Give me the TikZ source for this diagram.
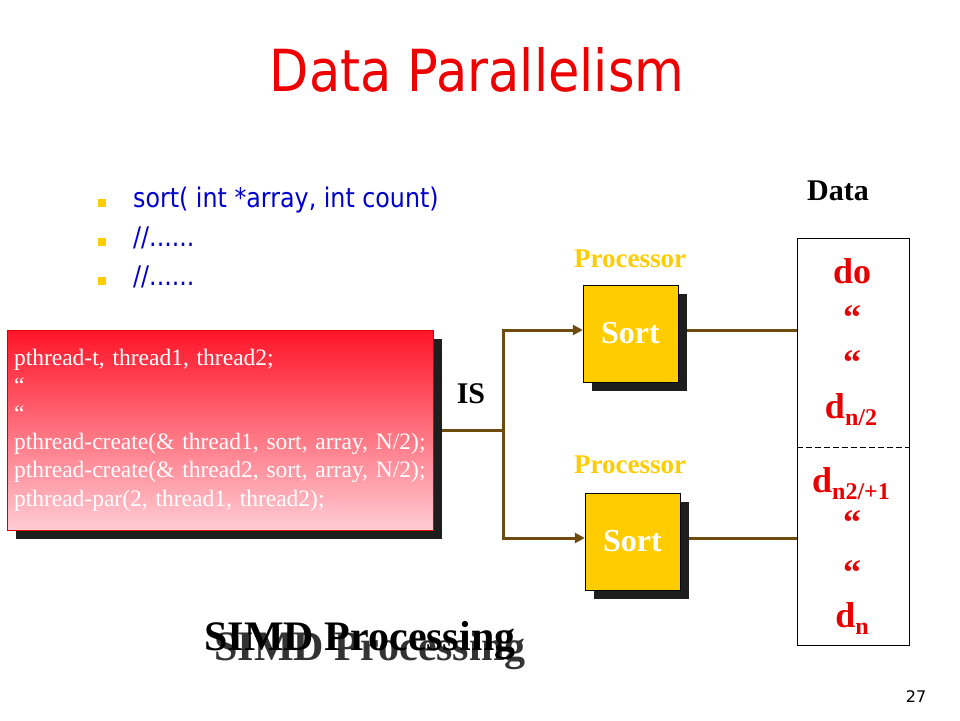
\documentclass[tikz,border=0pt]{standalone}
\usepackage{fontspec}
\usepackage{graphicx}
\setmainfont{Liberation Serif}
\newfontfamily\slidesans{DejaVu Sans}
\usetikzlibrary{arrows.meta,shadows}

\definecolor{titlered}{RGB}{238,0,0}
\definecolor{itemblue}{RGB}{0,0,204}
\definecolor{procgold}{RGB}{255,204,0}
\definecolor{wirebrown}{RGB}{110,75,15}
\definecolor{shade}{RGB}{30,30,30}
\definecolor{codetop}{RGB}{255,20,40}
\definecolor{codebottom}{RGB}{255,204,212}
\definecolor{datared}{RGB}{232,0,0}

\newcommand{\narrowsans}[2]{{\slidesans\fontsize{#1}{#1}\selectfont\scalebox{0.88}[1]{#2}}}
\newcommand{\dsub}[1]{\raisebox{-7pt}{\fontsize{24}{24}\selectfont #1}}

\tikzset{
  boxshadow/.style={drop shadow={shadow xshift=9pt, shadow yshift=-9pt, opacity=1, fill=shade}},
  codebox/.style={rectangle, draw=red!85!black, top color=codetop, bottom color=codebottom,
    minimum width=426pt, minimum height=200pt, inner xsep=7pt, text width=412pt, align=left,
    text=white, font=\fontsize{23.5}{28.2}\selectfont, boxshadow},
  sortbox/.style={rectangle, draw=black, fill=procgold, minimum width=95pt, minimum height=97pt,
    boxshadow, text=white, font=\fontsize{32}{32}\selectfont\bfseries},
  proclabel/.style={text=procgold, font=\fontsize{27}{27}\selectfont\bfseries},
  datalabel/.style={anchor=base, text=datared, font=\fontsize{36}{36}\selectfont\bfseries},
  databox/.style={rectangle, draw=black, line width=1pt, minimum width=112pt, minimum height=407pt},
  bullet/.style={fill=procgold, minimum size=8pt, inner sep=0pt},
  item/.style={anchor=base west, inner sep=0pt, text=itemblue},
  simd/.style={anchor=base, inner sep=0pt, font=\fontsize{42}{42}\selectfont\bfseries},
  wire/.style={draw=wirebrown, line width=3pt},
}

\begin{document}
\begin{tikzpicture}[x=1pt,y=-1pt]
  \useasboundingbox (0,0) rectangle (960,720);

  \node (title) at (477,70) {\narrowsans{58}{\color{titlered}Data Parallelism}};

  \begin{scope}[every node/.style={bullet}]
    \node (b1) at (102,203) {};
    \node (b2) at (102,242) {};
    \node (b3) at (102,281) {};
  \end{scope}

  \begin{scope}[every node/.style={item}]
    \node (i1) at (133,207) {\narrowsans{27}{sort( int *array, int count)}};
    \node (i2) at (133,246) {\narrowsans{27}{//......}};
    \node (i3) at (133,285) {\narrowsans{27}{//......}};
  \end{scope}

  % thread code
  \node[codebox] (code) at (220,430) {pthread-t, thread1, thread2;\\
    “\\
    “\\
    pthread-create(\& thread1, sort, array, N/2);\\
    pthread-create(\& thread2, sort, array, N/2);\\
    pthread-par(2, thread1, thread2);};

  \node[font=\fontsize{30}{30}\selectfont\bfseries] (is) at (471,394) {IS};

  % processors
  \node[proclabel] (p1) at (630,259) {Processor};
  \node[proclabel] (p2) at (630,465) {Processor};
  \node[sortbox] (s1) at (630.5,333.5) {Sort};
  \node[sortbox] (s2) at (632.5,541.5) {Sort};

  % data
  \node[font=\fontsize{30}{30}\selectfont\bfseries] (dlabel) at (838,191) {Data};
  \node[databox] (data) at (853,441.5) {};
  \coordinate (cut) at (853,447);
  \draw[dash pattern=on 6pt off 3pt] (data.west |- cut) -- (data.east |- cut);

  \begin{scope}[every node/.style={datalabel}]
    \node (d0) at (852,283) {do};
    \node (q1) at (852,329) {“};
    \node (q2) at (852,374) {“};
    \node (dh) at (851,418) {d\dsub{n/2}};
    \node (dh1) at (851,492) {d\dsub{n2/+1}};
    \node (q3) at (852,534) {“};
    \node (q4) at (852,584) {“};
    \node (dn) at (852,627) {d\dsub{n}};
  \end{scope}

  % wires
  \coordinate (fork) at (503,430);
  \coordinate (in1) at ([yshift=3.5pt]s1.west);
  \coordinate (in2) at ([yshift=3.5pt]s2.west);
  \coordinate (out1) at ([yshift=3.5pt]s1.east);
  \coordinate (out2) at ([yshift=3.5pt]s2.east);
  \draw[wire, shorten <=9pt] (code.east) -- (fork);
  \draw[wire, -{Triangle[length=10pt,width=10pt]}] (fork) |- (in1);
  \draw[wire, -{Triangle[length=10pt,width=10pt]}] (fork) |- (in2);
  \draw[wire, shorten <=9pt] (out1) -- (out1 -| data.west);
  \draw[wire, shorten <=9pt] (out2) -- (out2 -| data.west);

  \node[simd, text=black!80] (simd2) at (370,660) {SIMD Processing};
  \node[simd] (simd1) at (360,650) {SIMD Processing};

  \node (page) at (916,697) {\slidesans\fontsize{16}{16}\selectfont 27};
\end{tikzpicture}
\end{document}
